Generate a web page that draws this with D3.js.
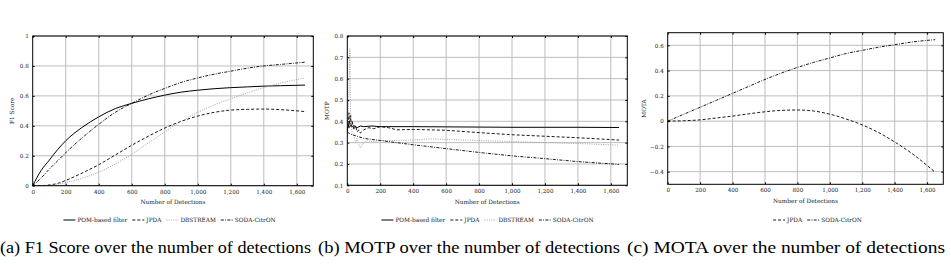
<!DOCTYPE html>
<html>
<head>
<meta charset="utf-8">
<script src="https://cdn.jsdelivr.net/npm/d3@7"></script>
<style>
  body { margin: 0; background: #fff; }
  svg text { font-family: "DejaVu Serif", "Liberation Serif", serif; fill: #222; }
  .caption { font-family: "Liberation Serif", serif; fill: #000; }
</style>
</head>
<body>
<svg id="chart" width="951" height="264"></svg>
<script>
// ---- data ----
const xTicks = [0, 200, 400, 600, 800, 1000, 1200, 1400, 1600];

// (a) F1 score
const f1X = [0, 50, 100, 150, 200, 300, 400, 500, 600, 700, 800, 900, 1000, 1100, 1200, 1300, 1400, 1500, 1650];
const f1Pom = [0, 0.10, 0.17, 0.24, 0.30, 0.39, 0.46, 0.515, 0.55, 0.58, 0.605, 0.625, 0.638, 0.648, 0.655, 0.66, 0.665, 0.668, 0.672];
const f1Jpda = [0, 0, 0.005, 0.015, 0.035, 0.085, 0.14, 0.205, 0.27, 0.33, 0.385, 0.43, 0.465, 0.49, 0.505, 0.51, 0.512, 0.508, 0.495];
const f1Dbs = [0, 0, 0, 0.01, 0.02, 0.05, 0.09, 0.145, 0.21, 0.285, 0.36, 0.43, 0.49, 0.54, 0.58, 0.62, 0.655, 0.685, 0.72];
const f1Soda = [0, 0.05, 0.11, 0.165, 0.22, 0.32, 0.41, 0.49, 0.55, 0.605, 0.65, 0.69, 0.72, 0.745, 0.765, 0.785, 0.80, 0.81, 0.825];
const f1YTicks = [0, 0.2, 0.4, 0.6, 0.8, 1];

// (b) MOTP
const motpPomX = [0, 5, 10, 20, 30, 40, 60, 80, 100, 150, 200, 400, 600, 800, 1000, 1200, 1400, 1650];
const motpPom = [0.35, 0.39, 0.37, 0.38, 0.375, 0.38, 0.37, 0.378, 0.375, 0.378, 0.375, 0.375, 0.374, 0.373, 0.372, 0.372, 0.372, 0.371];
const motpJpdaX = [0, 5, 10, 15, 20, 25, 30, 40, 50, 60, 70, 80, 100, 130, 160, 200, 250, 300, 400, 600, 800, 1000, 1200, 1400, 1650];
const motpJpda = [0.36, 0.40, 0.44, 0.38, 0.43, 0.37, 0.40, 0.36, 0.38, 0.35, 0.36, 0.345, 0.36, 0.37, 0.365, 0.375, 0.37, 0.36, 0.362, 0.358, 0.347, 0.337, 0.33, 0.323, 0.312];
const motpDbsX = [0, 5, 10, 15, 20, 25, 30, 40, 50, 60, 70, 80, 90, 100, 120, 150, 200, 300, 400, 500, 600, 800, 1000, 1200, 1400, 1650];
const motpDbs = [0.35, 0.42, 0.55, 0.74, 0.45, 0.38, 0.34, 0.33, 0.30, 0.32, 0.29, 0.275, 0.29, 0.30, 0.31, 0.305, 0.31, 0.31, 0.312, 0.318, 0.315, 0.31, 0.305, 0.30, 0.296, 0.288];
const motpSodaX = [0, 10, 20, 40, 60, 100, 200, 400, 600, 800, 1000, 1200, 1400, 1650];
const motpSoda = [0.35, 0.345, 0.34, 0.335, 0.33, 0.32, 0.31, 0.29, 0.272, 0.254, 0.238, 0.225, 0.211, 0.198];
const motpYTicks = [0.1, 0.2, 0.3, 0.4, 0.5, 0.6, 0.7, 0.8];

// (c) MOTA
const motaX = [0, 100, 200, 300, 400, 500, 600, 700, 800, 900, 1000, 1100, 1200, 1300, 1400, 1500, 1650];
const motaJpda = [0, 0.003, 0.01, 0.025, 0.04, 0.058, 0.074, 0.085, 0.088, 0.08, 0.055, 0.017, -0.03, -0.09, -0.165, -0.25, -0.405];
const motaSoda = [0, 0.055, 0.11, 0.165, 0.22, 0.275, 0.33, 0.38, 0.425, 0.465, 0.50, 0.535, 0.56, 0.585, 0.605, 0.625, 0.645];
const motaYTicks = [-0.4, -0.2, 0, 0.2, 0.4, 0.6];

const captions = [
  "(a) F1 Score over the number of detections",
  "(b) MOTP over the number of detections",
  "(c) MOTA over the number of detections"
];

// line styles per method
const styles = {
  "POM-based filter": {color: "#000", dash: null, width: 1},
  "JPDA": {color: "#000", dash: "3,2", width: 0.9},
  "DBSTREAM": {color: "#9a9a9a", dash: "1,1.3", width: 0.9},
  "SODA-CitrON": {color: "#000", dash: "3,1.3,0.9,1.3", width: 0.9}
};

const svg = d3.select("#chart");
const fmtX = d3.format(",");

function drawPanel(p) {
  const x = d3.scaleLinear().domain([0, 1700]).range([p.left, p.right]);
  const y = d3.scaleLinear().domain(p.yDomain).range([p.bottom, p.top]);
  const g = svg.append("g");

  // grid
  g.selectAll(".gx").data(xTicks.filter(d => d > 0)).enter().append("line")
    .attr("x1", d => x(d)).attr("x2", d => x(d))
    .attr("y1", p.top).attr("y2", p.bottom)
    .attr("stroke", "#bdbdbd").attr("stroke-width", 1);
  g.selectAll(".gy").data(p.yTicks).enter().append("line")
    .attr("x1", p.left).attr("x2", p.right)
    .attr("y1", d => y(d)).attr("y2", d => y(d))
    .attr("stroke", "#bdbdbd").attr("stroke-width", 1);

  // series
  const clipId = "clip" + p.id;
  svg.append("clipPath").attr("id", clipId).append("rect")
    .attr("x", p.left).attr("y", p.top).attr("width", p.right - p.left).attr("height", p.bottom - p.top);
  p.series.forEach(s => {
    const st = styles[s.name];
    const pts = s.xs.map((d, i) => [d, s.ys[i]]);
    const line = d3.line().x(d => x(d[0])).y(d => y(d[1])).curve(p.curve);
    g.append("path").datum(pts)
      .attr("d", line)
      .attr("fill", "none")
      .attr("stroke", st.color)
      .attr("stroke-width", st.width)
      .attr("stroke-dasharray", st.dash)
      .attr("clip-path", `url(#${clipId})`);
  });

  // frame + ticks on all sides
  g.append("rect").attr("x", p.left).attr("y", p.top)
    .attr("width", p.right - p.left).attr("height", p.bottom - p.top)
    .attr("fill", "none").attr("stroke", "#000").attr("stroke-width", 1);
  const axB = d3.axisBottom(x).tickValues(xTicks).tickFormat(fmtX).tickSizeInner(-2).tickSizeOuter(0).tickPadding(4);
  const axT = d3.axisTop(x).tickValues(xTicks).tickFormat("").tickSizeInner(-2).tickSizeOuter(0);
  const axL = d3.axisLeft(y).tickValues(p.yTicks).tickFormat(p.yFmt).tickSizeInner(-2).tickSizeOuter(0).tickPadding(4);
  const axR = d3.axisRight(y).tickValues(p.yTicks).tickFormat("").tickSizeInner(-2).tickSizeOuter(0);
  [[axB, `translate(0,${p.bottom})`], [axT, `translate(0,${p.top})`],
   [axL, `translate(${p.left},0)`], [axR, `translate(${p.right},0)`]].forEach(([ax, tr]) => {
    const a = g.append("g").attr("transform", tr).call(ax);
    a.select(".domain").remove();
    a.selectAll("line").attr("stroke", "#000");
    a.selectAll("text").attr("font-size", 5.6).attr("fill", "#222").attr("font-family", "DejaVu Serif");
  });

  // axis titles
  g.append("text").attr("x", (p.left + p.right) / 2).attr("y", p.bottom + 18.5)
    .attr("text-anchor", "middle").attr("font-size", 5.8).text("Number of Detections");
  g.append("text").attr("transform", `translate(${p.yLabelX},${(p.top + p.bottom) / 2}) rotate(-90)`)
    .attr("text-anchor", "middle").attr("font-size", 5.8).text(p.yLabel);

  // legend
  const lg = g.append("g");
  let cx = 0;
  p.series.forEach(s => {
    const st = styles[s.name];
    lg.append("line").attr("x1", cx).attr("x2", cx + 12).attr("y1", 0).attr("y2", 0)
      .attr("stroke", st.color).attr("stroke-width", st.width).attr("stroke-dasharray", st.dash);
    const t = lg.append("text").attr("x", cx + 14).attr("y", 2).attr("font-size", 5.8).text(s.name);
    cx += 14 + t.node().getComputedTextLength() + 5;
  });
  lg.attr("transform", `translate(${p.legendCx - cx / 2},${p.legendY})`);

  // caption
  svg.append("text").attr("class", "caption")
    .attr("x", p.capX).attr("y", 253).attr("font-size", 16)
    .attr("textLength", p.capW).attr("lengthAdjust", "spacingAndGlyphs")
    .text(p.caption);
}

drawPanel({
  id: 1, left: 32.7, right: 313.3, top: 36, bottom: 185.7,
  yDomain: [0, 1], yTicks: f1YTicks, yFmt: d3.format("~g"), yLabel: "F1 Score", yLabelX: 14,
  curve: d3.curveMonotoneX,
  series: [
    {name: "POM-based filter", xs: f1X, ys: f1Pom},
    {name: "JPDA", xs: f1X, ys: f1Jpda},
    {name: "DBSTREAM", xs: f1X, ys: f1Dbs},
    {name: "SODA-CitrON", xs: f1X, ys: f1Soda}
  ],
  legendCx: 172, legendY: 220, caption: captions[0], capX: 0, capW: 311
});

drawPanel({
  id: 2, left: 347.3, right: 627.3, top: 36, bottom: 185.3,
  yDomain: [0.1, 0.8], yTicks: motpYTicks, yFmt: d3.format(".1f"), yLabel: "MOTP", yLabelX: 329,
  curve: d3.curveLinear,
  series: [
    {name: "POM-based filter", xs: motpPomX, ys: motpPom},
    {name: "JPDA", xs: motpJpdaX, ys: motpJpda},
    {name: "DBSTREAM", xs: motpDbsX, ys: motpDbs},
    {name: "SODA-CitrON", xs: motpSodaX, ys: motpSoda}
  ],
  legendCx: 490, legendY: 220, caption: captions[1], capX: 318, capW: 302
});

drawPanel({
  id: 3, left: 667.7, right: 943.3, top: 32.7, bottom: 184.3,
  yDomain: [-0.5, 0.7], yTicks: motaYTicks, yFmt: d => d3.format("~g")(d).replace("-", "\u2212"), yLabel: "MOTA", yLabelX: 646,
  curve: d3.curveMonotoneX,
  series: [
    {name: "JPDA", xs: motaX, ys: motaJpda},
    {name: "SODA-CitrON", xs: motaX, ys: motaSoda}
  ],
  legendCx: 820, legendY: 220, caption: captions[2], capX: 627, capW: 318
});
</script>
</body>
</html>
